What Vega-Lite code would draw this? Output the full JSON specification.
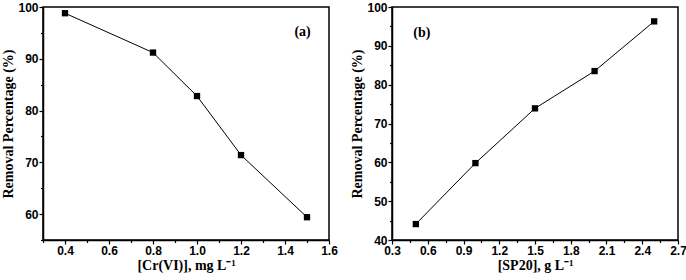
{
  "$schema": "https://vega.github.io/schema/vega-lite/v6.json",
  "padding": {"left": 1, "top": 0, "right": 0, "bottom": 0},
  "background": "white",
  "spacing": 11,
  "datasets": {
    "a": [
      {"conc": 0.4, "removal": 98.8},
      {"conc": 0.8, "removal": 91.2},
      {"conc": 1.0, "removal": 82.8},
      {"conc": 1.2, "removal": 71.4},
      {"conc": 1.5, "removal": 59.4}
    ],
    "b": [
      {"dose": 0.5, "removal": 44.1},
      {"dose": 1.0, "removal": 59.8},
      {"dose": 1.5, "removal": 73.9},
      {"dose": 2.0, "removal": 83.5},
      {"dose": 2.5, "removal": 96.3}
    ]
  },
  "config": {
    "view": {"stroke": "black", "strokeWidth": 1.5},
    "axis": {
      "domainColor": "black", "domainWidth": 1.5,
      "tickColor": "black", "tickWidth": 1.2, "tickSize": 4,
      "grid": false,
      "labelFont": "Liberation Sans", "labelFontWeight": "bold", "labelFontSize": 12, "labelColor": "black",
      "labelFlush": false, "labelOverlap": false, "labelPadding": 1,
      "titleFont": "Liberation Serif", "titleFontWeight": "bold", "titleFontSize": 14, "titleColor": "black"
    }
  },
  "hconcat": [
    {
      "width": 286, "height": 233,
      "layer": [
        {
          "data": {"name": "a"},
          "mark": {"type": "line", "color": "black", "strokeWidth": 1, "point": {"shape": "square", "filled": true, "color": "black", "size": 40, "opacity": 1}},
          "encoding": {
            "x": {"field": "conc", "type": "quantitative", "scale": {"domain": [0.3, 1.6], "nice": false, "zero": false},
                  "axis": {"orient": "bottom", "values": [0.4, 0.6, 0.8, 1.0, 1.2, 1.4, 1.6], "format": ".1f", "title": "[Cr(VI)], mg L⁻¹", "titlePadding": 2}},
            "y": {"field": "removal", "type": "quantitative", "scale": {"domain": [55, 100], "nice": false, "zero": false},
                  "axis": {"orient": "left", "values": [60, 70, 80, 90, 100], "title": "Removal Percentage (%)", "titlePadding": 2}}
          }
        },
        {
          "data": {"name": "a"},
          "mark": {"type": "point", "opacity": 0},
          "encoding": {
            "x": {"field": "conc", "type": "quantitative", "scale": {"domain": [0.3, 1.6], "nice": false, "zero": false},
                  "axis": {"orient": "bottom", "values": [0.3, 0.5, 0.7, 0.9, 1.1, 1.3, 1.5], "labels": false, "title": null, "tickSize": 2.5, "domain": false}},
            "y": {"field": "removal", "type": "quantitative", "scale": {"domain": [55, 100], "nice": false, "zero": false},
                  "axis": {"orient": "left", "values": [55, 65, 75, 85, 95], "labels": false, "title": null, "tickSize": 2.5, "domain": false}}
          }
        },
        {
          "data": {"values": [{}]},
          "mark": {"type": "text", "text": "(a)", "font": "Liberation Serif", "fontWeight": "bold", "fontSize": 14, "color": "black"},
          "encoding": {
            "x": {"datum": 1.48, "type": "quantitative", "axis": null},
            "y": {"datum": 95.2, "type": "quantitative", "axis": null}
          }
        }
      ],
      "resolve": {"axis": {"x": "independent", "y": "independent"}}
    },
    {
      "width": 286, "height": 233,
      "layer": [
        {
          "data": {"name": "b"},
          "mark": {"type": "line", "color": "black", "strokeWidth": 1, "point": {"shape": "square", "filled": true, "color": "black", "size": 40, "opacity": 1}},
          "encoding": {
            "x": {"field": "dose", "type": "quantitative", "scale": {"domain": [0.3, 2.7], "nice": false, "zero": false},
                  "axis": {"orient": "bottom", "values": [0.3, 0.6, 0.9, 1.2, 1.5, 1.8, 2.1, 2.4, 2.7], "format": ".1f", "title": "[SP20], g L⁻¹", "titlePadding": 2}},
            "y": {"field": "removal", "type": "quantitative", "scale": {"domain": [40, 100], "nice": false, "zero": false},
                  "axis": {"orient": "left", "values": [40, 50, 60, 70, 80, 90, 100], "title": "Removal Percentage (%)", "titlePadding": 2}}
          }
        },
        {
          "data": {"name": "b"},
          "mark": {"type": "point", "opacity": 0},
          "encoding": {
            "x": {"field": "dose", "type": "quantitative", "scale": {"domain": [0.3, 2.7], "nice": false, "zero": false},
                  "axis": {"orient": "bottom", "values": [0.45, 0.75, 1.05, 1.35, 1.65, 1.95, 2.25, 2.55], "labels": false, "title": null, "tickSize": 2.5, "domain": false}},
            "y": {"field": "removal", "type": "quantitative", "scale": {"domain": [40, 100], "nice": false, "zero": false},
                  "axis": {"orient": "left", "values": [45, 55, 65, 75, 85, 95], "labels": false, "title": null, "tickSize": 2.5, "domain": false}}
          }
        },
        {
          "data": {"values": [{}]},
          "mark": {"type": "text", "text": "(b)", "font": "Liberation Serif", "fontWeight": "bold", "fontSize": 14, "color": "black"},
          "encoding": {
            "x": {"datum": 0.55, "type": "quantitative", "axis": null},
            "y": {"datum": 93.3, "type": "quantitative", "axis": null}
          }
        }
      ],
      "resolve": {"axis": {"x": "independent", "y": "independent"}}
    }
  ]
}
